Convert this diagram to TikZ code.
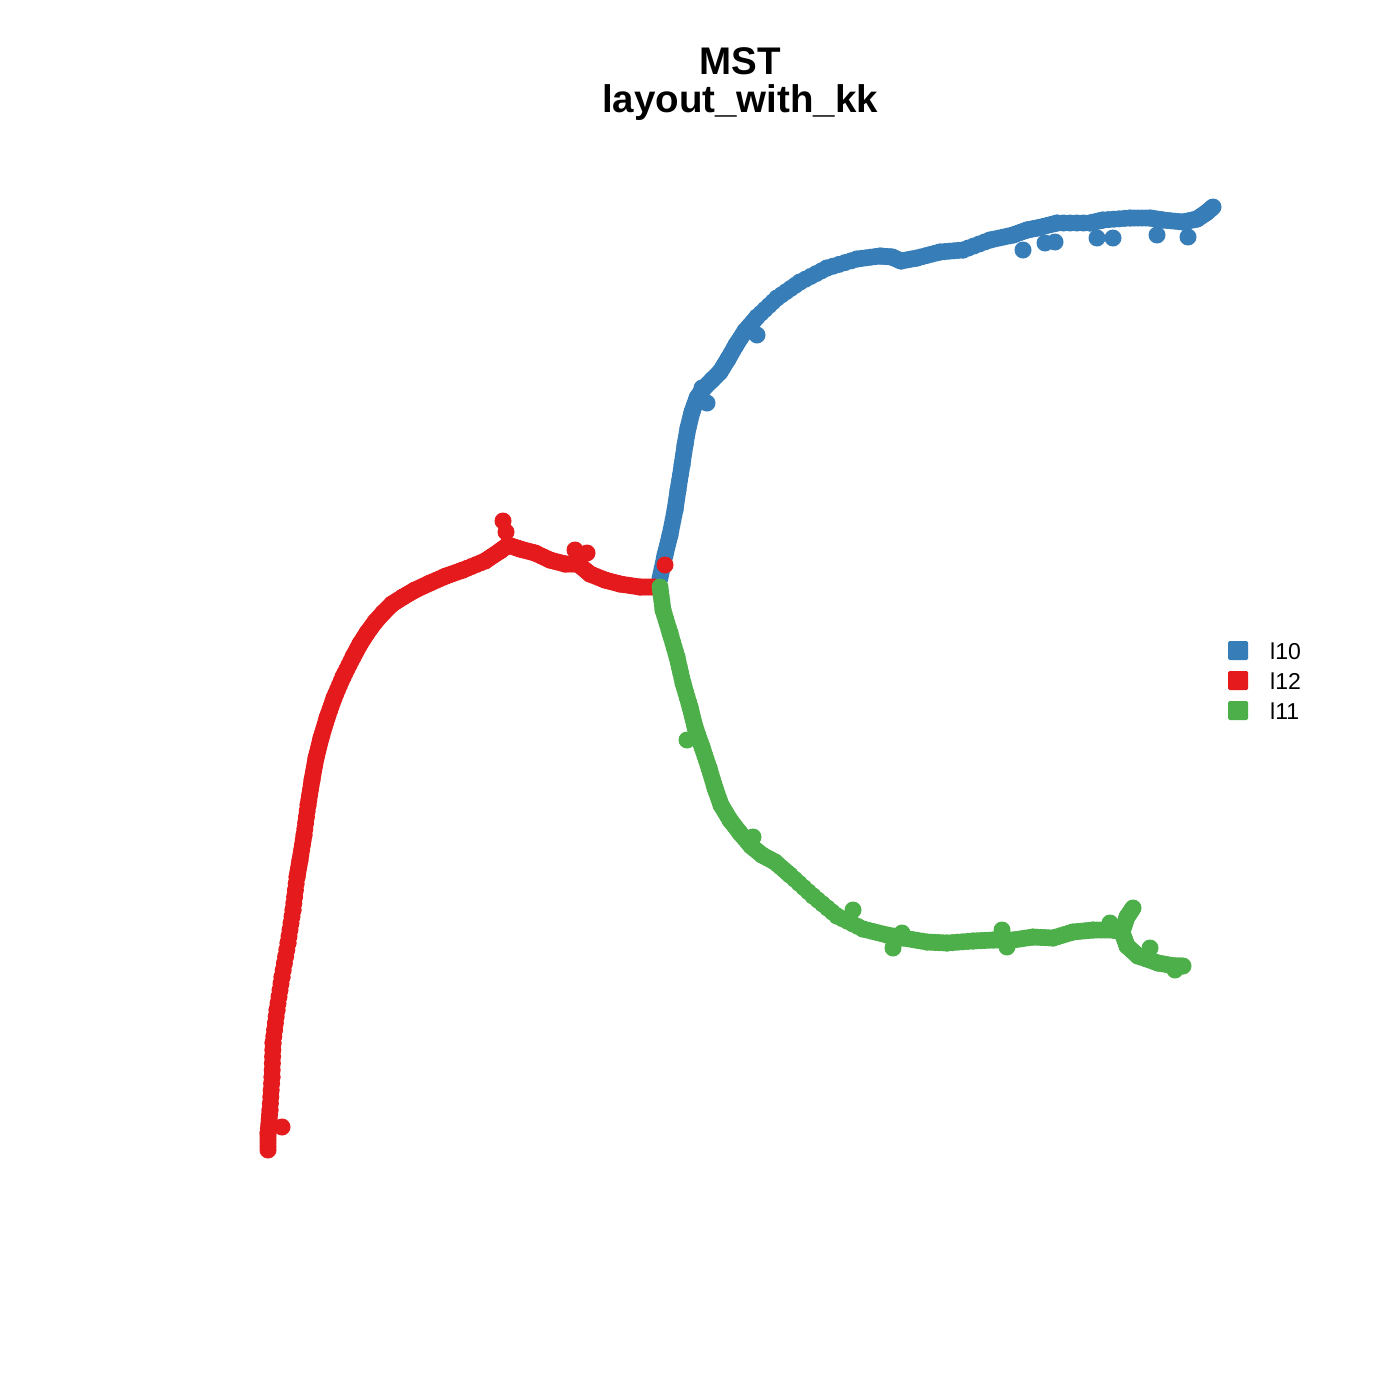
\documentclass[tikz,border=0pt]{standalone}
\usepackage{fontspec}
\setmainfont{Liberation Sans}
\usetikzlibrary{calc}
\definecolor{cblue}{HTML}{377EB8}
\definecolor{cred}{HTML}{E41A1C}
\definecolor{cgreen}{HTML}{4DAF4A}
\tikzset{
  legbox/.style={fill=#1, rounded corners=1.5pt},
  legtext/.style={anchor=west, font=\fontsize{23}{25}\selectfont, inner sep=0pt}
}
\newcommand\mydotr{8.5pt}
\newcommand\mydotline[4]{%
  \foreach \x/\y [remember=\x as \px (initially #2), remember=\y as \py (initially #3)] in {#4} {
    \foreach \t in {0,0.2,0.4,0.6,0.8,1} \fill[#1] ($(\px,\py)!\t!(\x,\y)$) circle (\mydotr);
  }%
}
\begin{document}
\begin{tikzpicture}[x=1pt,y=-1pt]
\useasboundingbox[fill=white] (0,0) rectangle (1400,1400);
% title
\node[font=\bfseries\fontsize{38.5}{38}\selectfont, align=center] (title) at (740,84) {MST\\layout\_with\_kk};
% blue branch
\mydotline{cblue}{660}{578}{665/555, 670/535, 675/510, 678/490, 682/465, 685/445, 688/428, 692/412, 697/398, 703/389, 712/380, 720/372, 728/359, 736/345, 745/331, 757/317, 777/298, 800/282, 827/268, 857/259, 880/256, 892/257, 901/261, 917/258, 940/252, 963/250, 990/240, 1013/235, 1027/230, 1037/228, 1057/223, 1090/223, 1103/220, 1130/218, 1150/218, 1163/220, 1183/222, 1197/219, 1206/213, 1213/207}
\foreach \p in {(707,403),(702,388),(757,335),(1023,250),(1045,243),(1055,242),(1097,238),(1113,238),(1157,235),(1188,237)} \fill[cblue] \p circle (\mydotr);
% red branch
\mydotline{cred}{268}{1150}{268/1133, 270/1110, 272/1077, 273/1043, 277/1010, 282/977, 288/943, 293/910, 297/877, 300/860, 304/835, 308/805, 312/780, 316/758, 321/738, 327/718, 334/698, 343/677, 353/657, 360/644, 367/633, 375/622, 383/613, 392/604, 403/597, 415/590, 430/583, 446/576, 463/570, 485/561, 500/551, 508/545, 520/549, 535/553, 550/560, 565/564, 578/564, 590/574, 605/580, 620/584, 640/587, 655/587}
\foreach \p in {(503,521),(506,532),(575,550),(587,553),(282,1127)} \fill[cred] \p circle (\mydotr);
% green branch
\mydotline{cgreen}{660}{587}{663/610, 670/633, 677/657, 683/683, 690/707, 695/727, 702/747, 709/768, 715/788, 721/805, 730/820, 740/833, 751/846, 762/855, 775/862, 790/875, 813/896, 837/916, 863/929, 887/935, 903/938, 927/942, 947/943, 973/941, 993/940, 1013/940, 1033/937, 1053/938, 1073/932, 1093/930, 1113/930, 1122/932}
\mydotline{cgreen}{1122}{932}{1127/917, 1133/908}
\mydotline{cgreen}{1122}{932}{1127/946, 1138/956, 1158/963, 1175/966, 1183/966}
\foreach \p in {(687,740),(753,837),(853,910),(893,948),(902,933),(1002,930),(1007,947),(1110,923),(1150,948),(1175,970)} \fill[cgreen] \p circle (\mydotr);
% red junction dot
\fill[cred] (665,565) circle (\mydotr);
% legend
\fill[legbox=cblue] (1228,641) rectangle (1248,660);
\fill[legbox=cred] (1228,671) rectangle (1248,690);
\fill[legbox=cgreen] (1228,701) rectangle (1248,720);
\node[legtext] (l10) at (1270,651) {l10};
\node[legtext] (l12) at (1270,681) {l12};
\node[legtext] (l11) at (1270,711) {l11};
\end{tikzpicture}
\end{document}
